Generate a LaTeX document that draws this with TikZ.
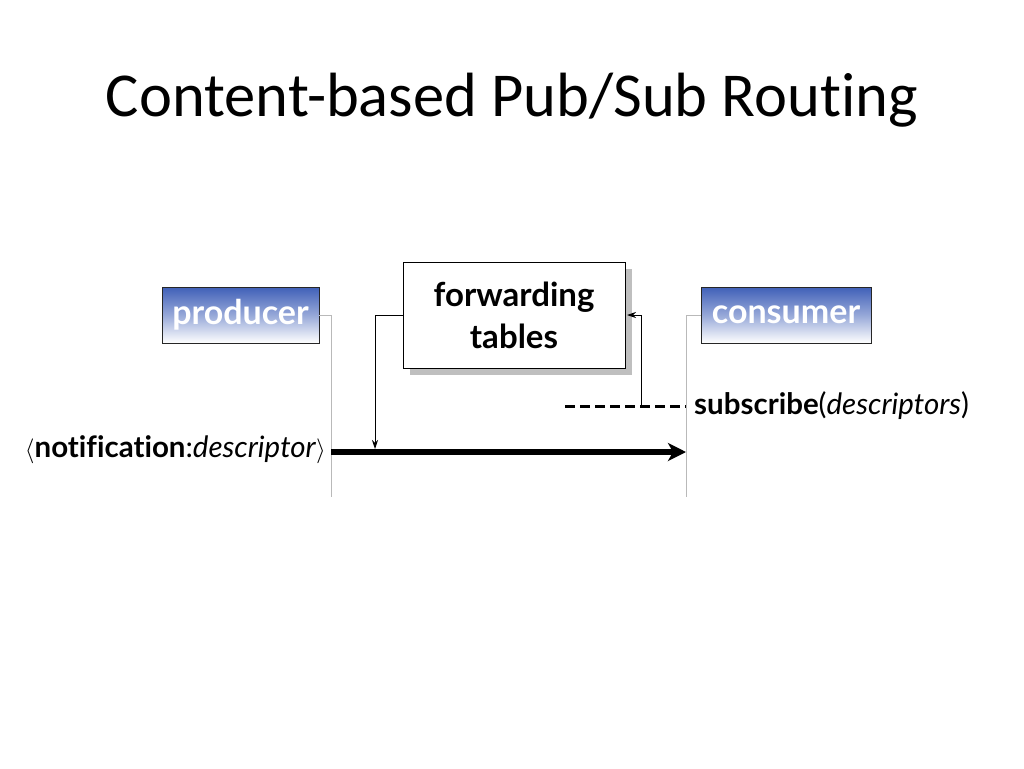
\documentclass[tikz,border=0pt]{standalone}
\usepackage{fontspec}
\setmainfont{Carlito}[Ligatures=NoCommon]
\newfontfamily\diag{Lato}[Ligatures=NoCommon]
\usetikzlibrary{arrows.meta,shadows}
\definecolor{actorblue}{RGB}{64,96,184}
\definecolor{lifegray}{RGB}{185,185,185}
\begin{document}
\begin{tikzpicture}[x=1pt,y=-1pt,
  actor/.style={draw=black!85, line width=0.8pt, top color=actorblue, bottom color=white,
    middle color=actorblue!55, text=white, inner sep=0pt,
    font=\diag\bfseries\fontsize{34}{38}\selectfont},
  life/.style={draw=lifegray, line width=0.8pt},
  thinarrow/.style={draw=black, line width=0.9pt, -{Stealth[length=9pt,width=6pt]}},
  lbl/.style={font=\diag\fontsize{29.5}{32}\selectfont, inner sep=0pt}
]
\useasboundingbox (0,0) rectangle (1024,768);
\node[anchor=base, inner sep=0pt, font=\fontsize{62.5}{72}\selectfont] (title) at (512,116) {Content-based Pub/Sub Routing};

\node[actor, minimum width=157pt, minimum height=56pt] (prod) at (240.5,315) {producer};
\node[actor, minimum width=170pt, minimum height=56pt] (cons) at (786,315) {consumer};
\node[draw=black, line width=0.9pt, fill=white, minimum width=222pt, minimum height=106pt,
  align=center, inner sep=0pt, font=\diag\bfseries\fontsize{33}{42}\selectfont,
  drop shadow={shadow xshift=7pt, shadow yshift=-7pt, fill=black!25, opacity=1}]
  (fwd) at (514,315) {forwarding\\tables};

\coordinate (pl) at (331,497);
\coordinate (cl) at (686,497);
\draw[life] (prod.east) -| (pl);
\draw[life] (cons.west) -| (cl);

\coordinate (ns) at (331,452);
\coordinate (ne) at (686,452);
\draw[line width=6pt, -{Stealth[length=18pt,width=18pt,inset=5pt]}] (ns) -- (ne);
\node[lbl, anchor=east] (notif) at (326,450) {$\big\langle$\textbf{notification}:\textit{descriptor}$\big\rangle$};

\coordinate (fa) at (375,449);
\draw[thinarrow] (fwd.west) -| (fa);

\coordinate (ds) at (565,406);
\coordinate (de) at (686,406);
\draw[line width=3pt, dash pattern=on 10pt off 5pt] (ds) -- (de);
\node[lbl, anchor=west] (sub) at (694,406) {\textbf{subscribe}(\textit{descriptors})};

\coordinate (sa) at (641,406);
\coordinate (fe) at (627,315);
\draw[thinarrow] (sa) |- (fe);
\end{tikzpicture}
\end{document}
